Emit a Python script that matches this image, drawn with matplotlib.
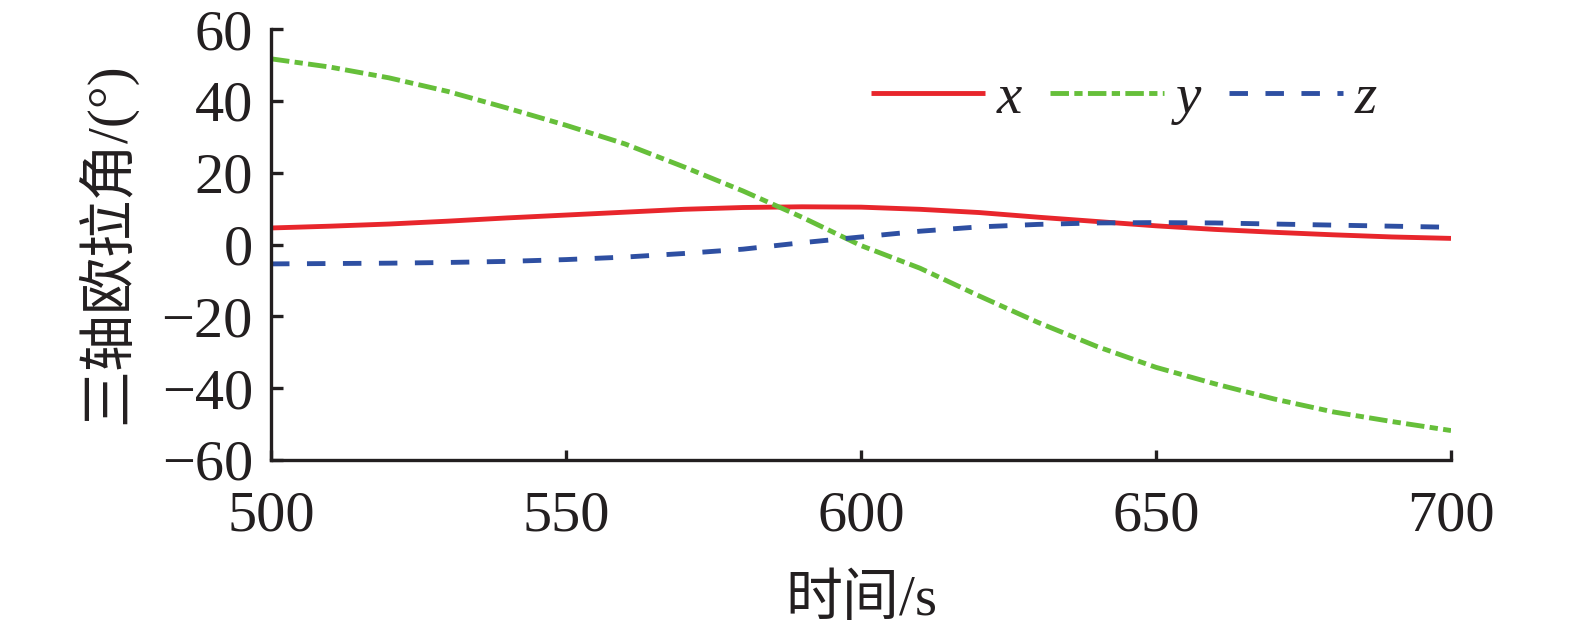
import matplotlib
matplotlib.use("Agg")
import matplotlib.pyplot as plt

# ---- data ----
time_s = [500, 510, 520, 530, 540, 550, 560, 570, 580, 590, 600,
          610, 620, 630, 640, 650, 660, 670, 680, 690, 700]
euler_x = [4.6, 5.1, 5.7, 6.5, 7.4, 8.2, 9.0, 9.8, 10.3, 10.5, 10.4,
           9.8, 8.9, 7.6, 6.4, 5.2, 4.2, 3.4, 2.7, 2.1, 1.7]
euler_y = [51.7, 49.4, 46.4, 42.6, 38.0, 33.2, 28.0, 21.6, 14.9, 7.6, -0.3,
           -6.6, -14.3, -21.7, -28.4, -34.2, -38.8, -43.0, -46.6, -49.3, -51.8]
euler_z = [-5.4, -5.3, -5.2, -5.0, -4.7, -4.2, -3.5, -2.5, -1.3, 0.5, 2.1,
           3.7, 4.9, 5.6, 6.0, 6.1, 6.0, 5.7, 5.4, 5.1, 4.8]
series_labels = ["x", "y", "z"]
x_ticks = [500, 550, 600, 650, 700]
y_ticks = [-60, -40, -20, 0, 20, 40, 60]
x_label = "时间/s"
y_label = "三轴欧拉角/(°)"

serif = ["Liberation Serif", "Noto Sans CJK SC", "DejaVu Sans"]
plt.rcParams["font.family"] = serif
plt.rcParams["axes.unicode_minus"] = True

fig = plt.figure(figsize=(15.75, 6.31), dpi=100)
ax = fig.add_axes([271 / 1575, 1 - 460 / 631, 1180 / 1575, 431 / 631])

lw = 3.5
ax.plot(time_s, euler_x, color="#E8262C", lw=lw, solid_capstyle="butt",
        label=series_labels[0])
ax.plot(time_s, euler_y, color="#66BF3A", lw=lw,
        linestyle=(0, (3.8, 1.1, 1.7, 1.1)), dash_capstyle="butt",
        label=series_labels[1])
ax.plot(time_s, euler_z, color="#2E4FA2", lw=lw,
        linestyle=(0, (3.8, 3.6)), dash_capstyle="butt",
        label=series_labels[2])

ax.set_xlim(500, 700)
ax.set_ylim(-60, 60)
ax.set_xticks(x_ticks)
ax.set_yticks(y_ticks)
ax.set_yticklabels([("\u2212" + str(-v)) if v < 0 else str(v) for v in y_ticks])

for s in ["top", "right"]:
    ax.spines[s].set_visible(False)
for s in ["left", "bottom"]:
    ax.spines[s].set_linewidth(2.4)
    ax.spines[s].set_color("#231F20")

ax.tick_params(axis="both", direction="in", width=2.4, color="#231F20",
               labelsize=42, labelcolor="#231F20")
ax.tick_params(axis="x", length=7, pad=22)
ax.tick_params(axis="y", length=8.5, pad=13)

ax.text(0.5, (460 - 601) / 431, x_label, transform=ax.transAxes,
        ha="center", va="center", fontsize=41, color="#231F20")
ax.text((106 - 271) / 1180, (460 - 243) / 431, y_label, transform=ax.transAxes,
        ha="center", va="center", rotation=90, fontsize=41, color="#231F20")

leg = ax.legend(loc="center", bbox_to_anchor=((1124 - 271) / 1180, (460 - 99) / 431),
                ncol=3, frameon=False, handlelength=2.0, handletextpad=0.2,
                columnspacing=0.5, borderpad=0.2,
                prop={"family": serif, "style": "italic", "size": 41})
for t in leg.get_texts():
    t.set_color("#231F20")

fig.savefig("out.png", dpi=100)
